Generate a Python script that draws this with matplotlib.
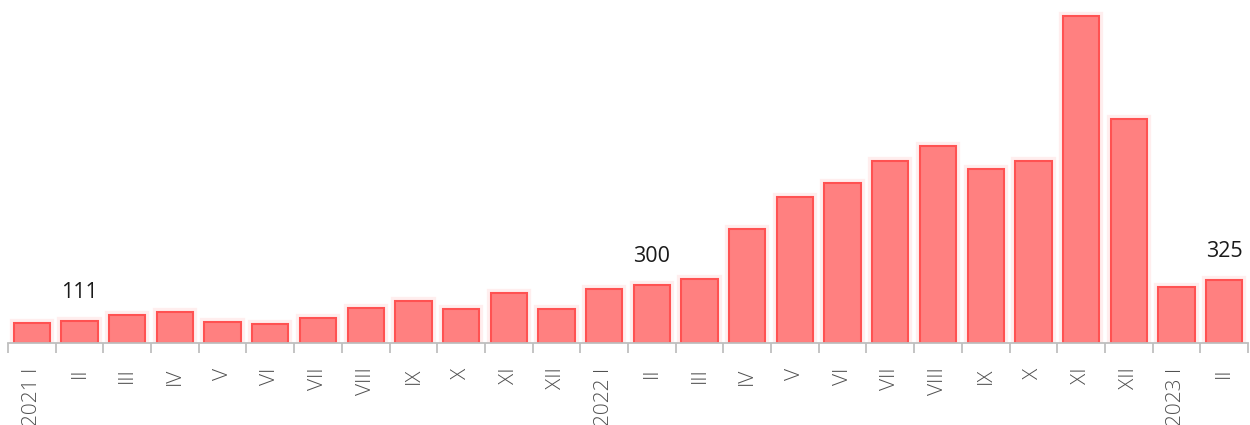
import matplotlib
matplotlib.use("Agg")
import matplotlib.pyplot as plt
import numpy as np

plt.rcParams['font.family'] = ['Open Sans', 'DejaVu Sans']

categories = ["2021 I", "II", "III", "IV", "V", "VI", "VII", "VIII", "IX", "X", "XI", "XII",
              "2022 I", "II", "III", "IV", "V", "VI", "VII", "VIII", "IX", "X", "XI", "XII",
              "2023 I", "II"]
values = [100, 111, 143, 160, 108, 96, 126, 183, 218, 174, 258, 176,
          281, 300, 335, 597, 760, 835, 950, 1027, 910, 950, 1711, 1172,
          291, 325]
labeled = {1: "111", 13: "300", 25: "325"}

fig = plt.figure(figsize=(12.5, 4.25), dpi=100)
ax = fig.add_axes([8 / 1250, (425 - 342.5) / 425, 1240 / 1250, 342.5 / 425])

x = np.arange(len(categories))
# soft glow behind bars
ax.bar(x, values, width=0.76, color='none', edgecolor='#FFE4E4', linewidth=6, alpha=0.6, zorder=1)
ax.bar(x, values, width=0.76, color='#FF8080', edgecolor='#FF5252', linewidth=1.5, zorder=2)

for i, txt in labeled.items():
    ax.annotate(txt, (x[i], values[i]), xytext=(0, 13), textcoords='offset points',
                ha='center', va='bottom', fontsize=15.5, color='#1A1A1A')

ax.set_xlim(-0.5, len(categories) - 0.5)
ax.set_ylim(0, 1794)

for s in ['top', 'right', 'left']:
    ax.spines[s].set_visible(False)
ax.spines['bottom'].set_color('#BFBFBF')
ax.spines['bottom'].set_linewidth(1.3)
ax.set_yticks([])

ax.set_xticks(x)
ax.set_xticklabels(categories, rotation=90, fontsize=15, color='#505050', fontweight='light')
ax.tick_params(axis='x', which='major', length=0, pad=18)
ax.set_xticks(np.arange(-0.5, len(categories)), minor=True)
ax.tick_params(axis='x', which='minor', length=7, width=1.3, color='#BFBFBF')

fig.savefig("out.png", dpi=100)
